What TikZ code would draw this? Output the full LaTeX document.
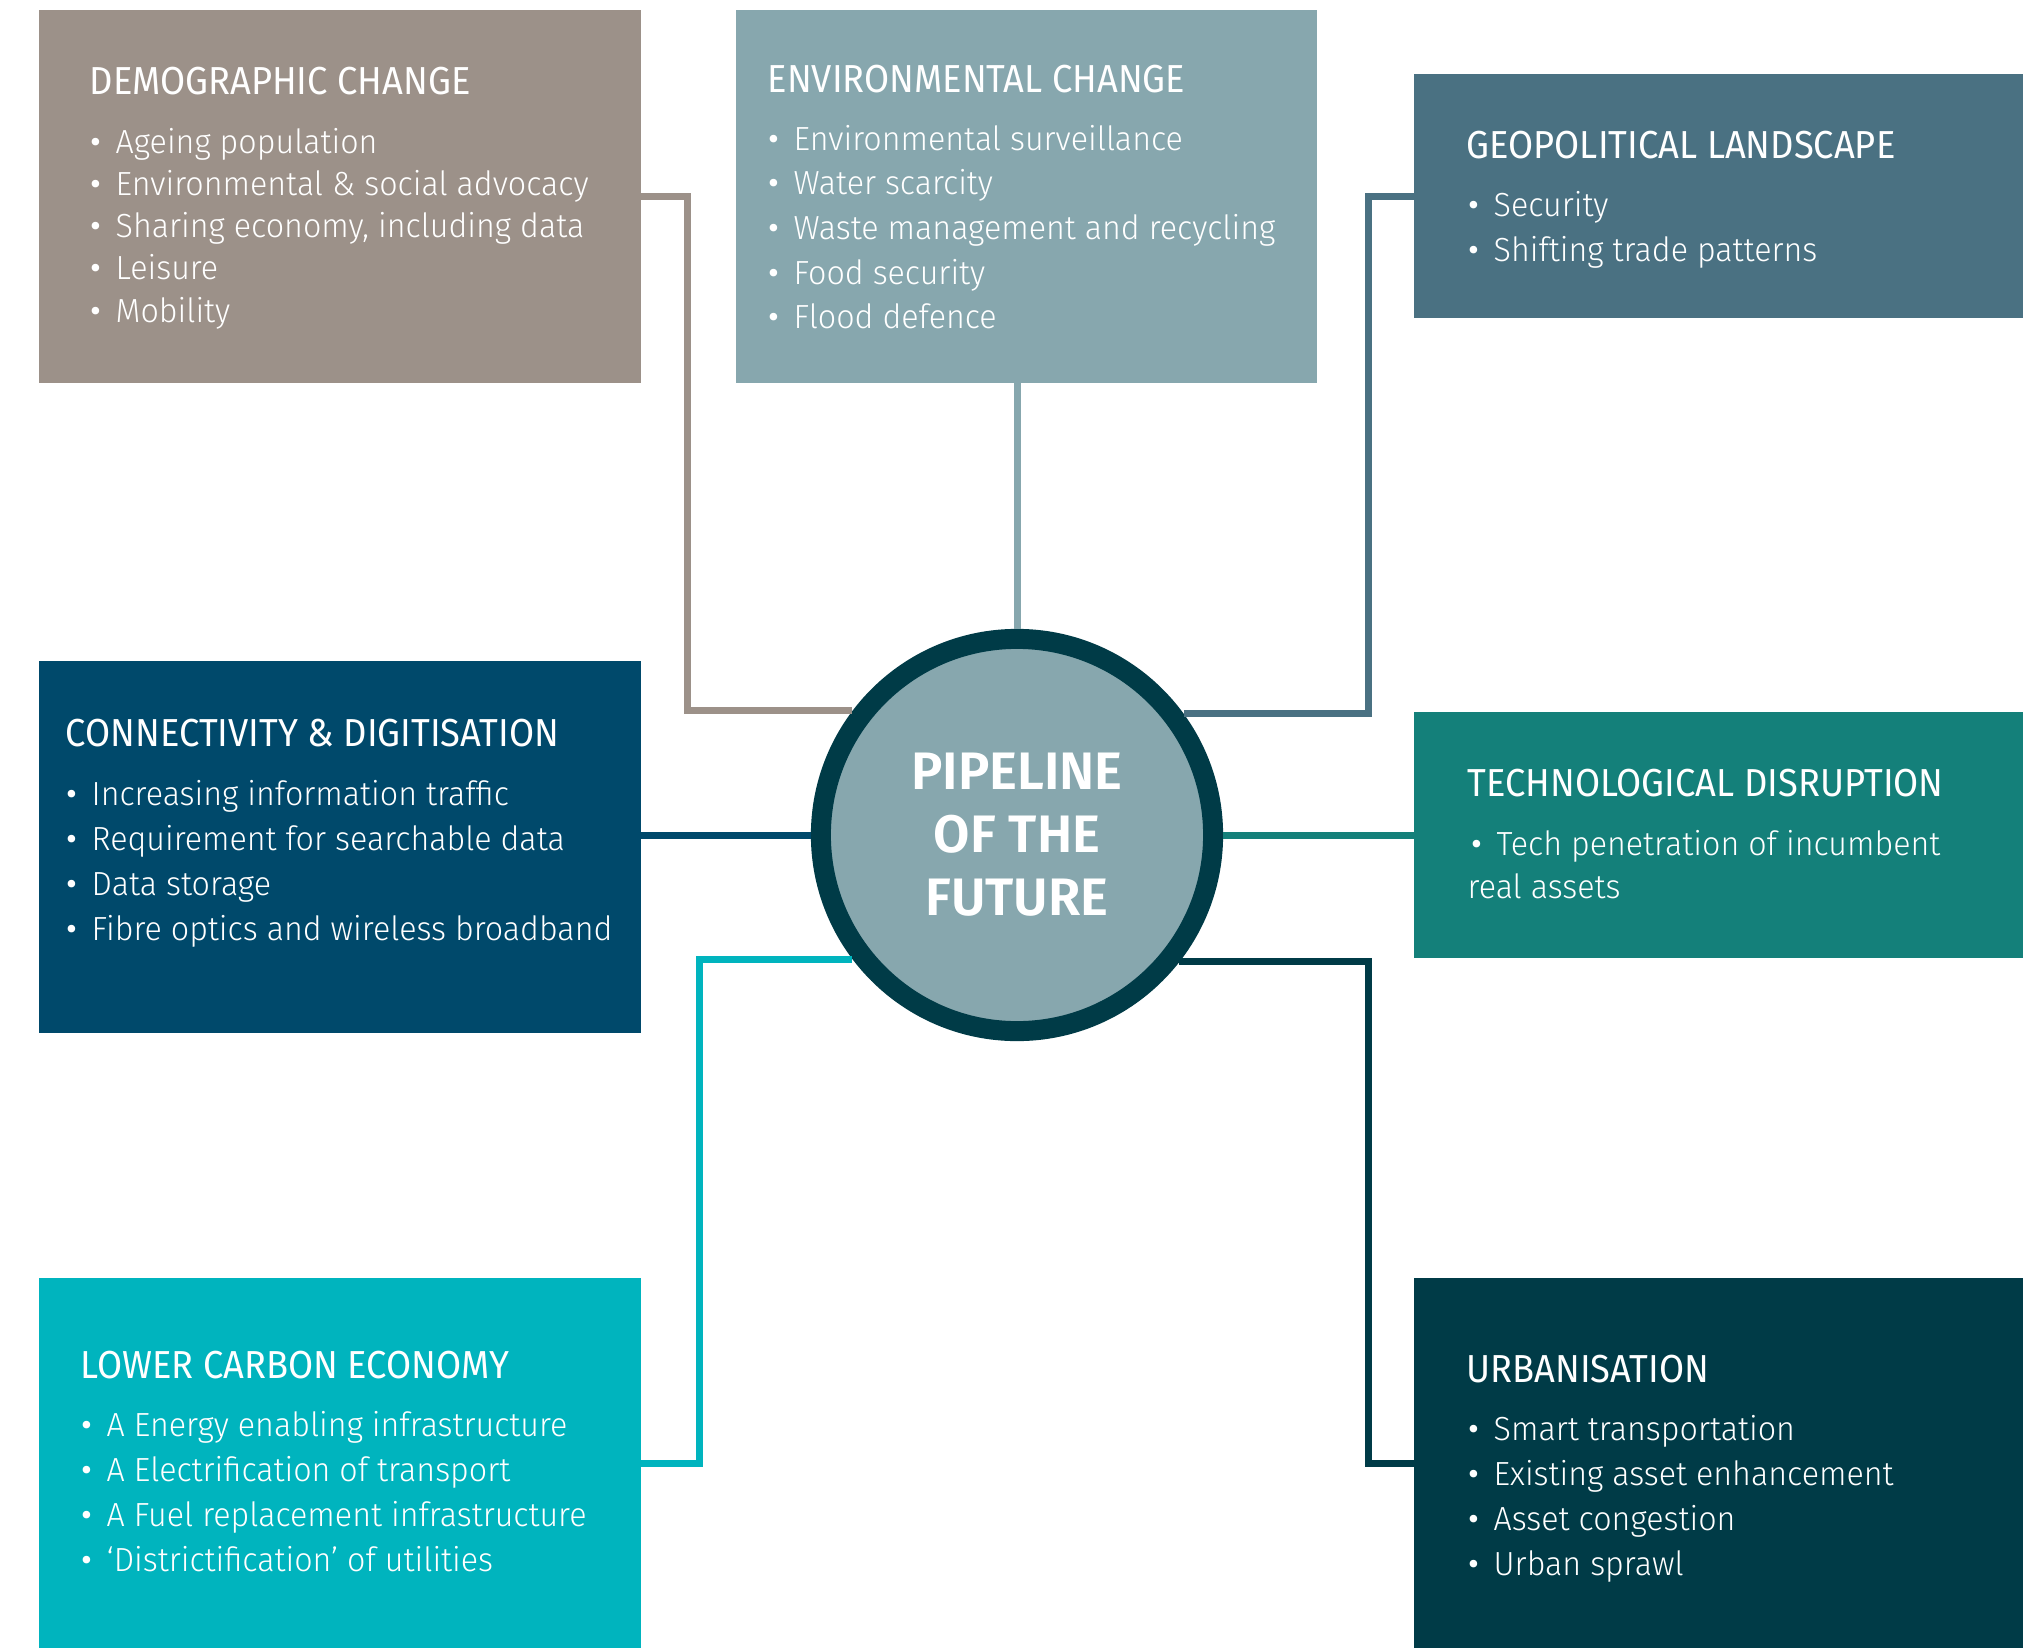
\documentclass[tikz,border=0pt]{standalone}
\usepackage{fontspec}
\setmainfont{Fira Sans Light}[FakeStretch=0.965]
\newfontfamily\headfont{Fira Sans}[FakeStretch=0.93]
\newfontfamily\bulfont{Fira Sans}
\newfontfamily\hubfont{Fira Sans SemiBold}
\definecolor{demcol}{HTML}{9C9189}
\definecolor{envcol}{HTML}{87A7AE}
\definecolor{geocol}{HTML}{4A7182}
\definecolor{concol}{HTML}{00496B}
\definecolor{teccol}{HTML}{14807A}
\definecolor{lowcol}{HTML}{00B4BE}
\definecolor{urbcol}{HTML}{003B47}
\tikzset{
  factor/.style={rectangle, fill=#1, inner sep=0pt, outer sep=0pt, anchor=north west},
  heading/.style={anchor=base west, inner sep=0pt, text=white, font=\headfont\fontsize{11.1}{13}\selectfont},
  item/.style={anchor=base west, inner sep=0pt, text=white, font=\fontsize{9.5}{12}\selectfont,
    execute at begin node={\llap{{\bulfont\textbullet}\hspace{4.2pt}}}},
  plain/.style={anchor=base west, inner sep=0pt, text=white, font=\fontsize{9.5}{12}\selectfont},
  link/.style={line width=0.07cm, draw=#1},
}
\begin{document}
\begin{tikzpicture}[x=0.01cm, y=-0.01cm]
  \useasboundingbox (0,0) rectangle (2029,1648);
  % boxes
  \node[factor=demcol, minimum width=6.02cm, minimum height=3.73cm] (dem) at (39,10) {};
  \node[factor=envcol, minimum width=5.81cm, minimum height=3.73cm] (env) at (736,10) {};
  \node[factor=geocol, minimum width=6.09cm, minimum height=2.44cm] (geo) at (1414,74) {};
  \node[factor=concol, minimum width=6.02cm, minimum height=3.72cm] (con) at (39,661) {};
  \node[factor=teccol, minimum width=6.09cm, minimum height=2.46cm] (tec) at (1414,712) {};
  \node[factor=lowcol, minimum width=6.02cm, minimum height=3.70cm] (low) at (39,1278) {};
  \node[factor=urbcol, minimum width=6.09cm, minimum height=3.70cm] (urb) at (1414,1278) {};
  % hub
  \node[circle, draw=urbcol, fill=envcol, line width=0.2cm, minimum size=3.92cm, inner sep=0pt,
    text=white, align=center, font=\hubfont\fontsize{15}{17.9}\selectfont] (hub) at (1017,835)
    {PIPELINE\\OF THE\\FUTURE};
  % connectors
  \draw[link=demcol] (dem.east) -- ++(46,0) |- (hub.143.7);
  \draw[link=envcol] (env.south -| hub.north) -- (hub.north);
  \draw[link=geocol] (geo.west) -- ++(-46,0) |- (hub.36.3);
  \draw[link=concol] (hub.west) -- (hub.west -| con.east);
  \draw[link=teccol] (hub.east) -- (hub.east -| tec.west);
  \draw[link=lowcol] (low.east) -- ++(58,0) |- (hub.217.4);
  \draw[link=urbcol] (urb.west) -- ++(-46,0) |- (hub.322.6);
  % texts
  \node[heading] (demh) at (89,94) {DEMOGRAPHIC CHANGE};
  \foreach \txt [count=\i from 0] in {Ageing population, Environmental \& social advocacy,
      {Sharing economy, including data}, Leisure, Mobility}
    \node[item] at (115,{153+42.3*\i}) {\txt};
  \node[heading] (envh) at (767,92) {ENVIRONMENTAL CHANGE};
  \foreach \txt [count=\i from 0] in {Environmental surveillance, Water scarcity,
      Waste management and recycling, Food security, Flood defence}
    \node[item] at (793,{150+44.7*\i}) {\txt};
  \node[heading] (geoh) at (1466,158) {GEOPOLITICAL LANDSCAPE};
  \foreach \txt [count=\i from 0] in {Security, Shifting trade patterns}
    \node[item] at (1493,{216+45*\i}) {\txt};
  \node[heading] (conh) at (65,746) {CONNECTIVITY \& DIGITISATION};
  \foreach \txt [count=\i from 0] in {Increasing information traffic, Requirement for searchable data,
      Data storage, Fibre optics and wireless broadband}
    \node[item] at (91,{805+45.3*\i}) {\txt};
  \node[heading] (tech) at (1467,796) {TECHNOLOGICAL DISRUPTION};
  \node[item] at (1496,855) {Tech penetration of incumbent};
  \node[plain] at (1467,898) {real assets};
  \node[heading] (lowh) at (80,1378) {LOWER CARBON ECONOMY};
  \foreach \txt [count=\i from 0] in {A Energy enabling infrastructure, A Electrification of transport,
      A Fuel replacement infrastructure, ‘Districtification’ of utilities}
    \node[item] at (106,{1436+45*\i}) {\txt};
  \node[heading] (urbh) at (1466,1382) {URBANISATION};
  \foreach \txt [count=\i from 0] in {Smart transportation, Existing asset enhancement,
      Asset congestion, Urban sprawl}
    \node[item] at (1493,{1440+45*\i}) {\txt};
\end{tikzpicture}
\end{document}
